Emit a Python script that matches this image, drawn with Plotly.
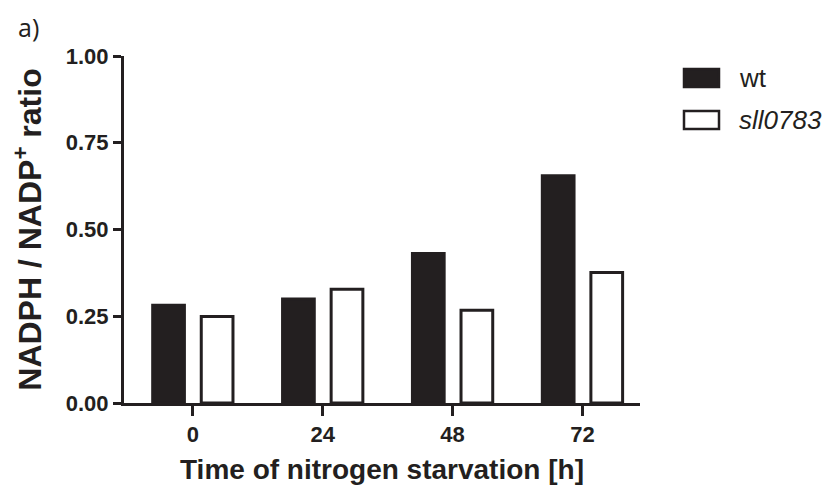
import plotly.graph_objects as go

time_labels = ["0", "24", "48", "72"]
wt_values = [0.282, 0.300, 0.431, 0.655]
sll_values = [0.249, 0.328, 0.267, 0.376]
y_ticks = [0.0, 0.25, 0.5, 0.75, 1.0]
series_names = ["wt", "<i>sll0783</i>"]

x_pos = list(range(len(time_labels)))
ink = "#231f20"
fills = [ink, "white"]
arial = "Liberation Sans, Arial, sans-serif"

fig = go.Figure()
for name, vals, fill in zip(series_names, [wt_values, sll_values], fills):
    fig.add_trace(go.Bar(
        x=x_pos, y=vals, name=name,
        marker=dict(color=fill, line=dict(color=ink, width=3)),
    ))

tickfont = dict(family=arial, size=22, color=ink, weight="bold")

# page body adds an 8px offset; target positions (in screenshot px) minus 8
OFF = 8
L, R, T, B = 124 - OFF, 640 - OFF, 56 - OFF, 403 - OFF
FW, FH = 837, 485
W, H = R - L, B - T

def px_x(p):
    return (p - OFF - L) / W

def px_y(p):
    return (B - (p - OFF)) / H

# legend drawn as boxes + labels to match the reference symbols
shapes = []
annotations = []
legend_rows = [78, 120]
for name, fill, yc in zip(series_names, fills, legend_rows):
    shapes.append(dict(
        type="rect", xref="paper", yref="paper",
        x0=px_x(684), x1=px_x(719), y0=px_y(yc + 9), y1=px_y(yc - 9),
        fillcolor=fill, line=dict(color=ink, width=2.5),
    ))
    annotations.append(dict(
        text=name, xref="paper", yref="paper", x=px_x(737), y=px_y(yc),
        xanchor="left", yanchor="middle", showarrow=False,
        font=dict(family=arial, size=26, color=ink),
    ))

annotations.append(dict(
    text="a)", xref="paper", yref="paper", x=px_x(16), y=px_y(27),
    xanchor="left", yanchor="middle", showarrow=False,
    font=dict(family="Open Sans, sans-serif", size=25, color=ink),
))

fig.update_layout(
    width=FW, height=FH,
    margin=dict(l=L, r=FW - R, t=T, b=FH - B),
    paper_bgcolor="white", plot_bgcolor="white",
    barmode="group", bargap=0.252, bargroupgap=0.347,
    showlegend=False,
    xaxis=dict(
        range=[-0.53, 3.443], tickmode="array", tickvals=x_pos, ticktext=time_labels,
        showline=True, linecolor=ink, linewidth=3, showgrid=False, zeroline=False,
        ticks="outside", ticklen=10, tickwidth=3, tickcolor=ink,
        tickfont=tickfont, automargin=False,
        title=dict(text="Time of nitrogen starvation [h]",
                   font=dict(family=arial, size=28, color=ink, weight="bold"),
                   standoff=13),
    ),
    yaxis=dict(
        range=[0, 1.0], tickmode="array", tickvals=y_ticks, tickformat=".2f",
        showline=True, linecolor=ink, linewidth=3, showgrid=False, zeroline=False,
        ticks="outside", ticklen=8, tickwidth=3, tickcolor=ink,
        tickfont=tickfont, automargin=False,
        title=dict(text="NADPH / NADP<sup>+</sup> ratio",
                   font=dict(family=arial, size=32, color=ink, weight="bold"),
                   standoff=16),
    ),
    shapes=shapes,
    annotations=annotations,
)

fig.write_html("out.html")
